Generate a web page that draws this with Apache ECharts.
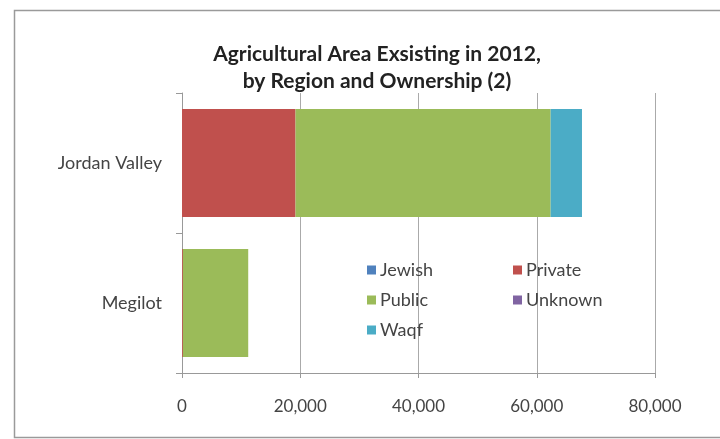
<!DOCTYPE html>
<html>
<head>
<meta charset="utf-8">
<script src="https://cdn.jsdelivr.net/npm/echarts@6/dist/echarts.min.js"></script>
<style>html,body{margin:0;padding:0;background:#fff;}#c{width:720px;height:439px;}</style>
</head>
<body>
<div id="c"></div>
<script>
var categories = ['Jordan Valley', 'Megilot'];
var seriesNames = ['Jewish', 'Private', 'Public', 'Unknown', 'Waqf'];
var jewish = [0, 0];
var privateVals = [19200, 150];
var publicVals = [43150, 11050];
var unknown = [0, 0];
var waqf = [5300, 0];
var xTicks = [0, 20000, 40000, 60000, 80000];
var colors = ['#4F81BD', '#C0504D', '#9BBB59', '#8064A2', '#4BACC6'];
var values = [jewish, privateVals, publicVals, unknown, waqf];

var font = 'Lato, "Open Sans", sans-serif';
var chart = echarts.init(document.getElementById('c'));
chart.setOption({
  animation: false,
  color: colors,
  graphic: [{
    type: 'rect', shape: {x: 14.5, y: 10.5, width: 720, height: 427},
    style: {fill: 'none', stroke: '#9a9a9a', lineWidth: 1.5}, silent: true
  }],
  title: {
    text: 'Agricultural Area Exsisting in 2012,\nby Region and Ownership (2)',
    left: 372, top: 36, textAlign: 'center',
    textStyle: {fontFamily: font, fontWeight: 'bold', fontSize: 21, color: '#222', lineHeight: 27}
  },
  legend: {
    data: seriesNames,
    left: 362, top: 255, width: 300,
    itemWidth: 9, itemHeight: 9, itemGap: 10,
    icon: 'rect',
    textStyle: {fontFamily: font, fontSize: 18, color: '#444', width: 123, lineHeight: 20, padding: [0,0,0,-1]}
  },
  grid: {left: 182, right: 65, top: 93, bottom: 66, containLabel: false},
  xAxis: {
    type: 'value', min: xTicks[0], max: xTicks[xTicks.length-1], interval: 20000,
    axisLine: {show: true, lineStyle: {color: '#999'}},
    axisTick: {show: true, length: 5, lineStyle: {color: '#999'}},
    splitLine: {show: true, lineStyle: {color: '#aaa'}},
    axisLabel: {fontFamily: font, fontSize: 17, color: '#444', margin: 25,
      formatter: function(v){ return v.toLocaleString('en-US'); }}
  },
  yAxis: {
    type: 'category', data: categories, inverse: true,
    axisLine: {show: true, lineStyle: {color: '#999'}},
    axisTick: {show: true, length: 6, lineStyle: {color: '#999'}},
    axisLabel: {fontFamily: font, fontSize: 18, color: '#444', margin: 20}
  },
  series: seriesNames.map(function(n, i){
    return {name: n, type: 'bar', stack: 'total', data: values[i], barWidth: '77%',
      itemStyle: {color: colors[i]}};
  })
});
</script>
</body>
</html>
